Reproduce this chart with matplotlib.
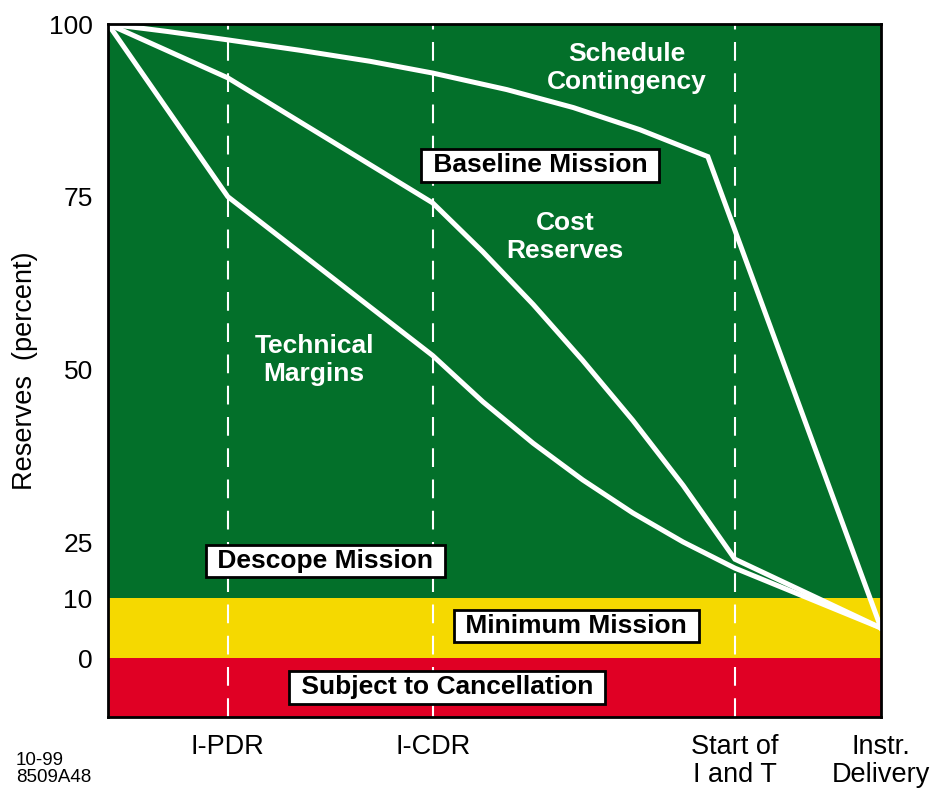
import matplotlib
matplotlib.use('Agg')
import matplotlib.pyplot as plt
from matplotlib.ticker import NullLocator
import numpy as np

plt.rcParams['font.family'] = ['Liberation Sans', 'DejaVu Sans']

# program milestones (percent of schedule)
milestone_x = [15.5, 42.0, 81.1, 100.0]
milestone_labels = ['I-PDR', 'I-CDR', 'Start of\nI and T', 'Instr.\nDelivery']

# reserve curves, percent remaining
sched_x = [0, 7.8, 15.5, 24.8, 33.9, 42.0, 51.6, 60.2, 68.8, 77.6, 100]
sched_y = [100, 98.9, 97.7, 96.2, 94.6, 92.9, 90.5, 87.9, 84.7, 80.8, 5]

cost_x = [0, 15.5, 42.0, 48.5, 55.0, 61.4, 67.9, 74.4, 81.1, 100]
cost_y = [100, 92.2, 74.1, 67.0, 59.4, 51.3, 42.6, 33.2, 20.4, 5]

tech_x = [0, 15.5, 42.0, 48.5, 55.0, 61.4, 67.9, 74.4, 81.1, 100]
tech_y = [100, 75.0, 52.0, 45.3, 39.3, 34.0, 29.2, 25.0, 18.0, 5]

ytick_vals = [100, 75, 50, 25, 10, 0]
inner_ticks = [75, 50, 25]

# bands: (low, high, colour)
bands = [(-10, 0, '#e00024'), (0, 10, '#f5d900'), (10, 100, '#03702a')]

# piecewise-linear vertical axis (the low end is stretched)
lev = [-10, 0, 10, 25, 100]
pos = [0, 59, 119, 175, 693]


def fwd(v):
    return np.interp(v, lev, pos)


def inv(p):
    return np.interp(p, pos, lev)


fig = plt.figure(figsize=(9.35, 7.91), dpi=100)
ax = fig.add_axes([108/935, 74/791, 773/935, 693/791])
ax.set_yscale('function', functions=(fwd, inv))
ax.set_xlim(0, 100)
ax.set_ylim(-10, 100)

for lo, hi, c in bands:
    ax.axhspan(lo, hi, color=c, lw=0, zorder=0)

for x in milestone_x[:3]:
    ax.axvline(x, color='white', lw=1.5, dashes=(9, 6), zorder=1)

for xs, ys in [(sched_x, sched_y), (cost_x, cost_y), (tech_x, tech_y)]:
    ax.plot(xs, ys, color='white', lw=3.6, solid_joinstyle='miter', zorder=2)

ax.set_yticks(ytick_vals)
ax.set_yticklabels([str(v) for v in ytick_vals])
ax.set_yticks(inner_ticks, minor=True)
ax.tick_params(axis='y', which='major', length=0, pad=11, labelsize=19)
ax.tick_params(axis='y', which='minor', direction='in', length=18, width=1.2,
               color='white', left=True, right=True, labelleft=False)

ax.set_xticks(milestone_x)
ax.set_xticklabels(milestone_labels, linespacing=1.1)
ax.xaxis.set_minor_locator(NullLocator())
ax.tick_params(axis='x', length=0, pad=12, labelsize=19.5)

for s in ax.spines.values():
    s.set_linewidth(2)
    s.set_color('black')
    s.set_zorder(5)

ax.set_ylabel('Reserves  (percent)', fontsize=19.5)
ax.yaxis.set_label_coords(-0.0906, 0.5)

# curve names
lbl = dict(color='white', fontsize=19, fontweight='bold', ha='center',
           va='center', linespacing=1.25, transform=ax.transAxes, zorder=4)
ax.text(0.671, 0.9365, 'Schedule\nContingency', **lbl)
ax.text(0.591, 0.6926, 'Cost\nReserves', **lbl)
ax.text(0.2665, 0.515, 'Technical\nMargins', **lbl)

# mission levels
box = dict(fontsize=19, fontweight='bold', ha='center', va='center',
           transform=ax.transAxes, zorder=4,
           bbox=dict(boxstyle='square,pad=0.17', fc='white', ec='black', lw=2))
ax.text(0.559, 0.796, ' Baseline Mission ', **box)
ax.text(0.2814, 0.2251, ' Descope Mission ', **box)
ax.text(0.606, 0.1313, ' Minimum Mission ', **box)
ax.text(0.4386, 0.0426, ' Subject to Cancellation ', **box)

fig.text(16/935, 1 - 752/791, '10-99\n8509A48', fontsize=13.5, ha='left',
         va='top', linespacing=1.0)

fig.savefig('out.png', dpi=100)
